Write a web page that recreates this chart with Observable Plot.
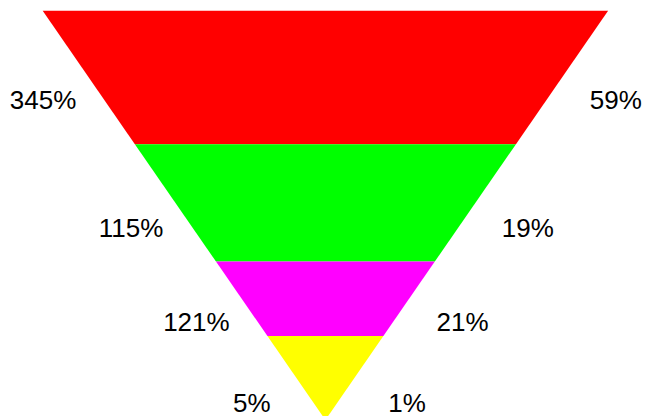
<!DOCTYPE html>
<html><head><meta charset="utf-8">
<script src="https://cdn.jsdelivr.net/npm/d3@7"></script>
<script src="https://cdn.jsdelivr.net/npm/@observablehq/plot@0.6"></script>
<style>html,body{margin:0;padding:0;background:#fff;overflow:hidden}</style>
</head><body><div id="chart"></div>
<script>
// Bands from top to bottom of the inverted funnel
const bands = ["Band 1", "Band 2", "Band 3", "Band 4"];
// Height of each band (share of the funnel's depth, top to bottom)
const bandHeights = [32.6, 28.7, 18.2, 20.5];
const leftLabels = ["345%", "115%", "121%", "5%"];
const rightLabels = ["59%", "19%", "21%", "1%"];
const colors = ["#ff0000", "#00ff00", "#ff00ff", "#ffff00"];

const total = d3.sum(bandHeights);
const tops = bandHeights.map((h, i) => total - d3.sum(bandHeights.slice(0, i)));
const shapes = [];
const labels = [];
bands.forEach((b, i) => {
  const h = bandHeights[i];
  const top = tops[i], bottom = top - h;
  shapes.push({band: b, level: top, x1: -top, x2: top});
  shapes.push({band: b, level: bottom, x1: -bottom, x2: bottom});
  // label sits in the lower part of its band, beside the slanted edge
  const ly = bottom + h * (h / total);
  labels.push({text: leftLabels[i], level: ly, x: -(ly + 22)});
  labels.push({text: rightLabels[i], level: ly, x: (ly + 24.5)});
});

const chart = Plot.plot({
  width: 652,
  height: 416,
  x: {domain: [-total, total], range: [42.7, 608.1], axis: null},
  y: {domain: [0, total], range: [420, 10.7], axis: null},
  color: {domain: bands, range: colors},
  style: {fontFamily: "'Liberation Sans', Arial, sans-serif", background: "#fff"},
  marks: [
    Plot.areaX(shapes, {y: "level", x1: "x1", x2: "x2", z: "band", fill: "band", curve: "linear"}),
    Plot.text(labels, {x: "x", y: "level", text: "text", fontSize: 26, fill: "#000", textAnchor: "middle"})
  ]
});
document.getElementById("chart").appendChild(chart);
</script>
</body></html>
